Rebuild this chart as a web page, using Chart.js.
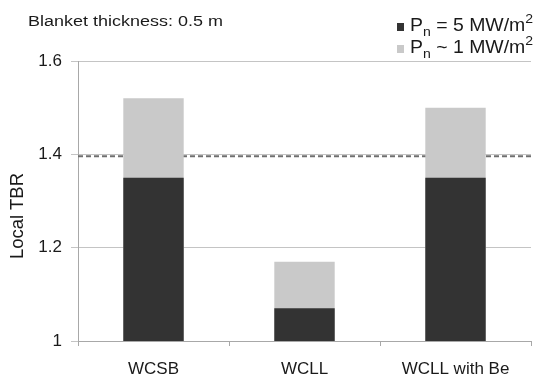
<!DOCTYPE html>
<html>
<head>
<meta charset="utf-8">
<script src="https://cdn.jsdelivr.net/npm/chart.js@4/dist/chart.umd.min.js"></script>
<style>
  body { margin: 0; background: #fff; font-family: "Liberation Sans", Arial, sans-serif; color: #1a1a1a; }
  #wrap { position: relative; width: 537px; height: 378px; overflow: hidden; }
  #title { position: absolute; left: 28px; top: 11px; font-size: 15.5px; line-height: 20px; white-space: nowrap;
           transform: scaleX(1.16); transform-origin: left center; }
  #ytitle { position: absolute; left: -33px; top: 206px; width: 100px; height: 20px; text-align: center;
            font-size: 18.5px; line-height: 20px; white-space: nowrap; transform: rotate(-90deg); }
  .row { position: absolute; left: 397px; height: 22px; font-size: 18px; line-height: 22px; white-space: nowrap; }
  .row .sw { position: absolute; left: 0; top: 9px; width: 7px; height: 8px; }
  .row .txt { position: absolute; left: 13px; top: 0; transform: scaleX(1.08); transform-origin: left center; }
  .row sub { font-size: 13px; vertical-align: -5px; line-height: 0; }
  .row sup { font-size: 13px; vertical-align: 8px; line-height: 0; }
</style>
</head>
<body>
<div id="wrap">
  <canvas id="chart"></canvas>
  <div id="title">Blanket thickness: 0.5 m</div>
  <div id="ytitle">Local TBR</div>
</div>
<script>
// values
const categories = ['WCSB', 'WCLL', 'WCLL with Be'];
const tbrHighLoad = [1.35, 1.07, 1.35];   // Pn = 5 MW/m2
const tbrLowLoad = [1.52, 1.17, 1.50];    // Pn ~ 1 MW/m2
const targetTBR = 1.396;
const yTicks = [1, 1.2, 1.4, 1.6];
const yTickLabels = ['1', '1.2', '1.4', '1.6'];

const darkColor = '#333333';
const lightColor = '#c9c9c9';

const legendItems = [
  { color: darkColor, html: 'P<sub>n</sub> = 5 MW/m<sup>2</sup>' },
  { color: lightColor, html: 'P<sub>n</sub> ~ 1 MW/m<sup>2</sup>' },
];

const wrap = document.getElementById('wrap');
legendItems.forEach((it, i) => {
  const d = document.createElement('div');
  d.className = 'row';
  d.style.top = (14 + i * 22) + 'px';
  d.innerHTML = `<span class="sw" style="background:${it.color}"></span><span class="txt">${it.html}</span>`;
  wrap.appendChild(d);
});

const font = { family: '"Liberation Sans", Arial, sans-serif', size: 17 };

const ctx = document.getElementById('chart').getContext('2d');
new Chart(ctx, {
  type: 'bar',
  data: {
    labels: categories,
    datasets: [
      {
        label: 'Pn = 5 MW/m2',
        data: tbrHighLoad,
        backgroundColor: darkColor,
        grouped: false,
        categoryPercentage: 1,
        barPercentage: 0.4,
      },
      {
        label: 'Pn ~ 1 MW/m2',
        data: tbrLowLoad,
        backgroundColor: lightColor,
        grouped: false,
        categoryPercentage: 1,
        barPercentage: 0.4,
      },
      {
        type: 'line',
        label: 'target',
        xAxisID: 'x2',
        data: [{ x: 0, y: targetTBR }, { x: 1, y: targetTBR }],
        borderColor: '#6f6f6f',
        borderWidth: 2,
        borderDash: [5, 3],
        pointRadius: 0,
      },
    ],
  },
  options: {
    responsive: true,
    maintainAspectRatio: false,
    animation: false,
    layout: { padding: { top: 61, right: 6, left: 0, bottom: 0 } },
    scales: {
      x: {
        grid: {
          offset: true,
          drawOnChartArea: false,
          tickLength: 5,
          color: '#a8a8a8',
        },
        border: { color: '#a8a8a8' },
        ticks: { color: '#1a1a1a', font, padding: 13, maxRotation: 0 },
        afterFit: (s) => { s.height = 37; },
      },
      x2: {
        type: 'linear',
        display: false,
        offset: false,
        min: 0,
        max: 1,
      },
      y: {
        min: 1,
        max: 1.6,
        afterBuildTicks: (s) => { s.ticks = yTicks.map((v) => ({ value: v })); },
        ticks: {
          color: '#1a1a1a',
          font,
          padding: 9,
          callback: (v, i) => yTickLabels[i],
        },
        grid: { color: '#c4c4c4', tickLength: 7 },
        border: { color: '#a8a8a8' },
        afterFit: (s) => { s.width = 78; },
      },
    },
    plugins: {
      legend: { display: false },
      tooltip: { enabled: false },
    },
  },
});
</script>
</body>
</html>
